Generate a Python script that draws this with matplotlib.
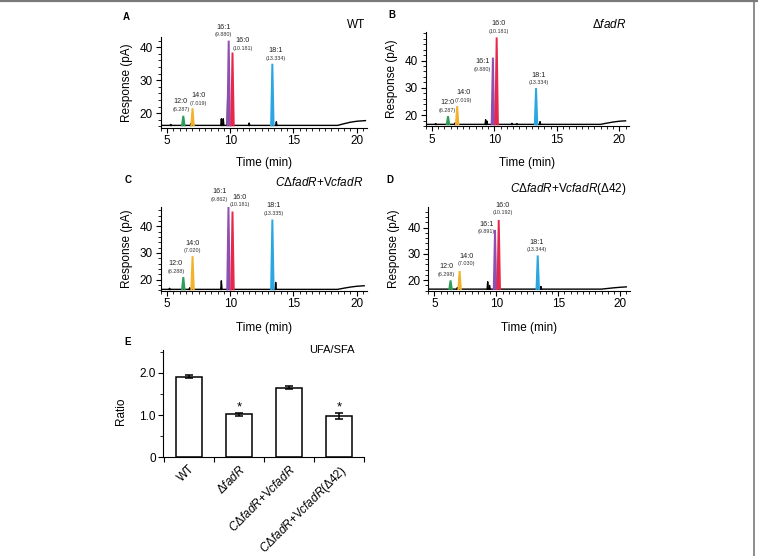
import matplotlib
matplotlib.use("Agg")
import matplotlib.pyplot as plt
import numpy as np
from matplotlib.lines import Line2D
from matplotlib.ticker import MultipleLocator, FixedLocator, NullFormatter

plt.rcParams['font.family'] = ['Liberation Sans', 'DejaVu Sans']
plt.rcParams['mathtext.fontset'] = 'custom'
plt.rcParams['mathtext.rm'] = 'Liberation Sans'
plt.rcParams['mathtext.it'] = 'Liberation Sans:italic'
plt.rcParams['axes.linewidth'] = 0.8

W, H = 758, 556

# ---------------- data ----------------
peak_names = ["12:0", "14:0", "16:1", "16:0", "18:1"]
peak_colors = ["#2f9e5b", "#f2b22e", "#8e4fb0", "#e8284a", "#2aa6e0"]

rt_A = [6.287, 7.019, 9.880, 10.181, 13.334]
ht_A = [19.2, 21.5, 42.0, 38.4, 35.0]
rt_B = [6.287, 7.019, 9.880, 10.181, 13.334]
ht_B = [19.6, 23.3, 41.1, 48.5, 29.9]
rt_C = [6.288, 7.020, 9.862, 10.181, 13.335]
ht_C = [21.0, 28.8, 47.2, 45.5, 42.5]
rt_D = [6.298, 7.030, 9.891, 10.192, 13.344]
ht_D = [19.9, 23.5, 39.1, 42.9, 29.4]

# baseline traces (time, response)
base_t_A = [4.6, 18.5, 19.0, 19.5, 20.0, 20.7]
base_y_A = [16.3, 16.3, 16.8, 17.25, 17.55, 17.75]
base_t_B = [4.6, 18.5, 19.0, 19.5, 20.0, 20.5]
base_y_B = [16.6, 16.6, 17.05, 17.45, 17.75, 17.9]
base_t_C = [4.6, 18.5, 19.0, 19.5, 20.0, 20.6]
base_y_C = [16.4, 16.4, 16.85, 17.25, 17.55, 17.75]
base_t_D = [4.6, 18.5, 19.0, 19.5, 20.0, 20.5]
base_y_D = [16.6, 16.6, 16.85, 17.1, 17.3, 17.45]

# small unlabelled (black) peaks
minor_t_A = [5.3, 6.9, 9.3, 9.45, 9.8, 11.5, 13.65]
minor_h_A = [16.6, 16.9, 18.3, 18.3, 25.0, 17.0, 17.4]
minor_t_B = [5.3, 6.85, 9.3, 9.4, 11.4, 11.8, 13.65]
minor_h_B = [16.9, 17.1, 18.3, 17.8, 17.0, 16.9, 17.6]
minor_t_C = [5.2, 6.8, 9.3, 13.6]
minor_h_C = [16.8, 17.0, 19.6, 19.0]
minor_t_D = [6.85, 9.3, 9.45, 13.6]
minor_h_D = [17.2, 19.4, 18.0, 17.6]

ylim_A = (15.6, 43.1)
ylim_B = (16.0, 50.6)
ylim_C = (15.9, 47.3)
ylim_D = (16.0, 47.7)

# bar chart E
strains = ["WT", r"Δ$\mathit{fadR}$", r"$\mathit{CΔfadR}$+V$\mathit{cfadR}$",
           r"$\mathit{CΔfadR}$+V$\mathit{cfadR}$(Δ42)"]
ratio = [1.91, 1.02, 1.645, 0.98]
ratio_err = [0.03, 0.04, 0.04, 0.07]
signif = ["", "*", "", "*"]

# ---------------- layout helpers ----------------
fig = plt.figure(figsize=(W / 100, H / 100), dpi=100)


def ax_px(x0, y0, x1, y1):
    return fig.add_axes([x0 / W, 1 - y1 / H, (x1 - x0) / W, (y1 - y0) / H])


def ftext(x, y, s, **kw):
    fig.text(x / W, 1 - y / H, s, **kw)


PX = 0.72  # points per pixel

# label offsets (dx px, dy px of the retention-time line above peak top)
offs_A = [(-2.5, 6.7), (5.5, 5.0), (-5.5, 6.0), (10, 4.4), (3, 5.7)]
offs_B = [(-1, 6.0), (6, 6.0), (-10.5, -11.6), (2, 6.0), (3, 5.6)]
offs_C = [(-7.5, 6.0), (0, 5.3), (-9, 7.7), (7.5, 6.7), (1, 6.4)]
offs_D = [(-4.3, 6.3), (6.7, 7.4), (-8.3, -2.0), (4, 7.0), (-1, 5.7)]


def chromatogram(ax, rts, hts, bt, by, mt, mh, ylim, offs):
    base = by[0]
    # baseline
    ax.plot(bt, by, color="black", lw=1.0, zorder=2)
    # minor black spikes
    for t, h in zip(mt, mh):
        ax.plot([t - 0.05, t, t + 0.05], [base, h, base], color="black", lw=1.0, zorder=2)
    # coloured peaks
    for t, h, c, name, (dx, dy) in zip(rts, hts, peak_colors, peak_names, offs):
        xs = [t - 0.1, t, t + 0.1]
        ys = [base, h, base]
        ax.fill(xs, ys, color=c, lw=0, zorder=3)
        ax.plot(xs, ys, color=c, lw=1.4, zorder=3, solid_joinstyle="miter")
        ax.annotate(f"({t:.3f})", xy=(t, h), xytext=(dx * PX, dy * PX),
                    textcoords="offset points", ha="center", va="center",
                    fontsize=3.9, color="#333333", zorder=4)
        ax.annotate(name, xy=(t, h), xytext=(dx * PX, (dy + 7.5) * PX),
                    textcoords="offset points", ha="center", va="center",
                    fontsize=5.2, color="#222222", zorder=4)
    ax.set_xlim(4.5, 20.8)
    ax.set_ylim(*ylim)
    ax.spines["top"].set_visible(False)
    ax.spines["right"].set_visible(False)
    ax.xaxis.set_major_locator(FixedLocator([5, 10, 15, 20]))
    ax.xaxis.set_minor_locator(MultipleLocator(0.5))
    ax.yaxis.set_major_locator(FixedLocator([20, 30, 40]))
    ax.yaxis.set_minor_locator(MultipleLocator(2))
    ax.tick_params(which="major", direction="out", length=3.5, width=0.8, labelsize=8.5, pad=2)
    ax.tick_params(which="minor", direction="out", length=2.0, width=0.6)
    ax.set_xlabel("Time (min)", fontsize=8.5)
    ax.set_ylabel("Response (pA)", fontsize=8.5)


# A
axA = ax_px(160.7, 37, 366.7, 127.7)
chromatogram(axA, rt_A, ht_A, base_t_A, base_y_A, minor_t_A, minor_h_A, ylim_A, offs_A)
axA.xaxis.set_label_coords(0.5, -29.3 / 90.7)
axA.yaxis.set_label_coords(-28 / 206, 0.5)
# B
axB = ax_px(425.7, 31.7, 629.3, 126)
chromatogram(axB, rt_B, ht_B, base_t_B, base_y_B, minor_t_B, minor_h_B, ylim_B, offs_B)
axB.xaxis.set_label_coords(0.5, -31 / 94.3)
axB.yaxis.set_label_coords(-28 / 203.6, 0.5)
# C
axC = ax_px(160.7, 206.7, 366.7, 290.7)
chromatogram(axC, rt_C, ht_C, base_t_C, base_y_C, minor_t_C, minor_h_C, ylim_C, offs_C)
axC.xaxis.set_label_coords(0.5, -31 / 84)
axC.yaxis.set_label_coords(-28 / 206, 0.5)
# D
axD = ax_px(428.3, 207.3, 630.0, 290.7)
chromatogram(axD, rt_D, ht_D, base_t_D, base_y_D, minor_t_D, minor_h_D, ylim_D, offs_D)
axD.xaxis.set_label_coords(0.5, -31 / 83.4)
axD.yaxis.set_label_coords(-28 / 201.7, 0.5)

# E
axE = ax_px(163.3, 350, 364, 457.3)
xpos = np.arange(len(ratio))
axE.bar(xpos, ratio, width=0.51, color="white", edgecolor="black", lw=1.1, zorder=2)
axE.errorbar(xpos, ratio, yerr=ratio_err, fmt="none", ecolor="black", elinewidth=1.1,
             capsize=3.2, capthick=1.1, zorder=3)
for x, r, e, s in zip(xpos, ratio, ratio_err, signif):
    if s:
        axE.text(x, r + e + 0.13, s, ha="center", va="center", fontsize=9.5)
axE.set_xlim(-0.513, 3.5)
axE.set_ylim(0, 2.54)
axE.spines["top"].set_visible(False)
axE.spines["right"].set_visible(False)
axE.xaxis.set_major_locator(FixedLocator([-0.5, 0.5, 1.5, 2.5, 3.5]))
axE.xaxis.set_major_formatter(NullFormatter())
axE.xaxis.set_minor_locator(FixedLocator(list(xpos)))
axE.set_xticklabels(strains, minor=True, rotation=45, ha="right", rotation_mode="anchor", fontsize=8.5)
axE.tick_params(axis="x", which="minor", length=0, pad=4)
axE.tick_params(axis="x", which="major", direction="out", length=3.5, width=0.8)
axE.yaxis.set_major_locator(FixedLocator([0, 1.0, 2.0]))
axE.set_yticklabels(["0", "1.0", "2.0"])
axE.yaxis.set_minor_locator(FixedLocator([0.5, 1.5, 2.5]))
axE.tick_params(axis="y", which="major", direction="out", length=3.5, width=0.8, labelsize=8.5, pad=2)
axE.tick_params(axis="y", which="minor", direction="out", length=2.0, width=0.6)
axE.set_ylabel("Ratio", fontsize=8.5)
axE.yaxis.set_label_coords(-36.6 / 200.7, 0.43)

# panel letters and titles
for (x, y, s) in [(126, 16.7, "A"), (391.7, 15, "B"), (128, 180, "C"), (390, 180, "D"), (128, 341.7, "E")]:
    ftext(x, y, s, fontsize=7, fontweight="bold", ha="center", va="center")
ftext(365, 25, "WT", fontsize=8.5, ha="right", va="center")
ftext(626.7, 25, r"Δ$\mathit{fadR}$", fontsize=8.5, ha="right", va="center")
ftext(363, 182.3, r"$\mathit{CΔfadR}$+V$\mathit{cfadR}$", fontsize=8.5, ha="right", va="center")
ftext(626.7, 189.3, r"$\mathit{CΔfadR}$+V$\mathit{cfadR}$(Δ42)", fontsize=8.5, ha="right", va="center")
ftext(355, 350, "UFA/SFA", fontsize=8, ha="right", va="center")

# page frame (top and right edges)
fig.add_artist(Line2D([0, 1], [1 - 1 / H, 1 - 1 / H], transform=fig.transFigure, color="#7a7a7a", lw=1.6))
fig.add_artist(Line2D([754 / W, 754 / W], [0, 1], transform=fig.transFigure, color="#7a7a7a", lw=1.2))

fig.savefig("out.png", dpi=100)
